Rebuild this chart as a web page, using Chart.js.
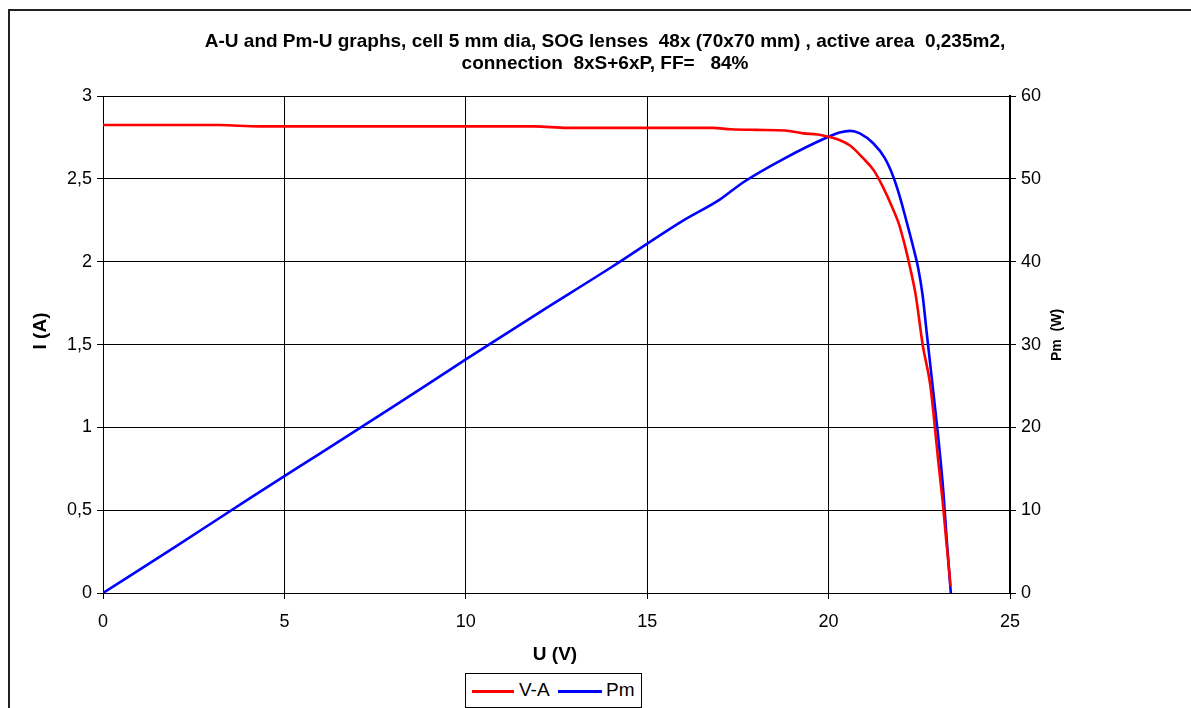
<!DOCTYPE html>
<html>
<head>
<meta charset="utf-8">
<script src="https://cdn.jsdelivr.net/npm/chart.js@4.4.1/dist/chart.umd.min.js"></script>
<style>
  body { margin: 0; background: #fff; }
  #wrap { position: relative; width: 1191px; height: 708px; overflow: hidden; }
  #legend { position: absolute; left: 465px; top: 673px; width: 175px; height: 33px;
            border: 1px solid #000; background: #fff;
            font: 19px "Liberation Sans", Arial, sans-serif; color: #000; }
  #legend .ln { position: absolute; top: 16px; height: 3px; }
  #legend .tx { position: absolute; top: 6px; line-height: 20px; }
</style>
</head>
<body>
<div id="wrap">
  <canvas id="mycanvas" width="1191" height="708"></canvas>
  <div id="legend">
    <span class="ln" style="left:6px;width:42px;background:#ff0000"></span>
    <span class="tx" style="left:53px">V-A</span>
    <span class="ln" style="left:92px;width:44px;background:#0000ff"></span>
    <span class="tx" style="left:140px">Pm</span>
  </div>
</div>
<script>
// V-A curve (U in V, I in A)
var uVA = [0, 3.2, 4.3, 11.9, 12.8, 16.8, 17.3, 18.0, 18.8, 19.3, 19.7, 20.0, 20.3, 20.6,
           20.95, 21.25, 21.5, 21.75, 21.95, 22.1, 22.25, 22.4, 22.6, 22.8, 22.93, 23.02,
           23.14, 23.25, 23.33, 23.36];
var iVA = [2.825, 2.825, 2.817, 2.817, 2.808, 2.808, 2.800, 2.796, 2.792, 2.775, 2.768, 2.755, 2.735, 2.700,
           2.625, 2.550, 2.450, 2.330, 2.220, 2.100, 1.960, 1.800, 1.490, 1.260, 1.000, 0.800,
           0.560, 0.300, 0.120, 0.040];

// Pm curve (U in V, P in W)
var uPm = [0, 2, 4, 6, 8, 10, 12, 14, 16, 17, 17.65, 18.75, 19.95, 20.3, 20.6, 20.86, 21.23,
           21.55, 21.78, 21.96, 22.14, 22.33, 22.47, 22.59, 22.7, 22.88, 23.02, 23.16, 23.25,
           23.35, 23.37];
var pPm = [0, 5.6, 11.3, 16.9, 22.5, 28.2, 33.8, 39.3, 45.0, 47.5, 49.6, 52.4, 55.0, 55.6, 55.8, 55.5, 54.3,
           52.5, 50.3, 47.9, 45.0, 41.8, 39.2, 36.0, 31.6, 24.5, 18.9, 12.4, 6.8,
           1.0, 0];

var titleLines = ['A-U and Pm-U graphs, cell 5 mm dia, SOG lenses  48x (70x70 mm) , active area  0,235m2,',
                  'connection  8xS+6xP, FF=   84%'];

var FONT = '"Liberation Sans", Arial, sans-serif';

function pts(xs, ys) {
    var out = [];
    for (var i = 0; i < xs.length; i++) out.push({x: xs[i], y: ys[i]});
    return out;
}

// frame round the chart and the three axis titles
var extras = {
    id: 'extras',
    beforeDraw: function(chart) {
        var c = chart.ctx;
        c.save();
        c.strokeStyle = '#222';
        c.lineWidth = 2;
        c.strokeRect(9, 10, 1400, 900);
        c.restore();
    },
    afterDraw: function(chart) {
        var c = chart.ctx;
        c.save();
        c.fillStyle = '#000';
        c.textAlign = 'center';
        c.textBaseline = 'middle';
        c.font = 'bold 19px ' + FONT;
        c.fillText('U (V)', 555, 655);
        c.save();
        c.translate(41, 331);
        c.rotate(-Math.PI / 2);
        c.fillText('I (A)', 0, 0);
        c.restore();
        c.font = 'bold 14px ' + FONT;
        c.translate(1057, 335);
        c.rotate(-Math.PI / 2);
        c.fillText('Pm  (W)', 0, 0);
        c.restore();
    }
};

var chrt = document.getElementById('mycanvas').getContext('2d');
new Chart(chrt, {
    type: 'scatter',
    data: {
        datasets: [{
            label: 'V-A',
            data: pts(uVA, iVA),
            yAxisID: 'y',
            showLine: true,
            borderColor: '#ff0000',
            backgroundColor: '#ff0000',
            borderWidth: 2.6,
            pointRadius: 0,
            cubicInterpolationMode: 'monotone'
        }, {
            label: 'Pm',
            data: pts(uPm, pPm),
            yAxisID: 'y2',
            showLine: true,
            borderColor: '#0000ff',
            backgroundColor: '#0000ff',
            borderWidth: 2.6,
            pointRadius: 0,
            cubicInterpolationMode: 'monotone'
        }]
    },
    options: {
        responsive: false,
        animation: false,
        layout: { padding: { left: 19, right: 0, top: 0, bottom: 0 } },
        plugins: {
            legend: { display: false },
            tooltip: { enabled: false },
            title: {
                display: true,
                text: titleLines,
                color: '#000',
                font: { family: FONT, size: 19, weight: 'bold', lineHeight: 1.16 },
                padding: { top: 31, bottom: 21 }
            }
        },
        scales: {
            x: {
                type: 'linear',
                min: 0, max: 25,
                ticks: { stepSize: 5, color: '#000', font: { family: FONT, size: 18 }, padding: 12 },
                grid: { color: '#000', tickLength: 6 },
                border: { color: '#000' },
                afterFit: function(s) { s.height = 115; }
            },
            y: {
                position: 'left',
                min: 0, max: 3,
                ticks: {
                    stepSize: 0.5, color: '#000', font: { family: FONT, size: 18 }, padding: 5,
                    callback: function(v) { return String(v).replace('.', ','); }
                },
                grid: { color: '#000', tickLength: 6 },
                border: { color: '#000' },
                afterFit: function(s) { s.width = 84; }
            },
            y2: {
                position: 'right',
                min: 0, max: 60,
                ticks: { stepSize: 10, color: '#000', font: { family: FONT, size: 18 }, padding: 5 },
                grid: { drawOnChartArea: false, color: '#000', tickLength: 6 },
                border: { color: '#000', width: 2 },
                afterFit: function(s) { s.width = 181; }
            }
        }
    },
    plugins: [extras]
});
</script>
</body>
</html>
